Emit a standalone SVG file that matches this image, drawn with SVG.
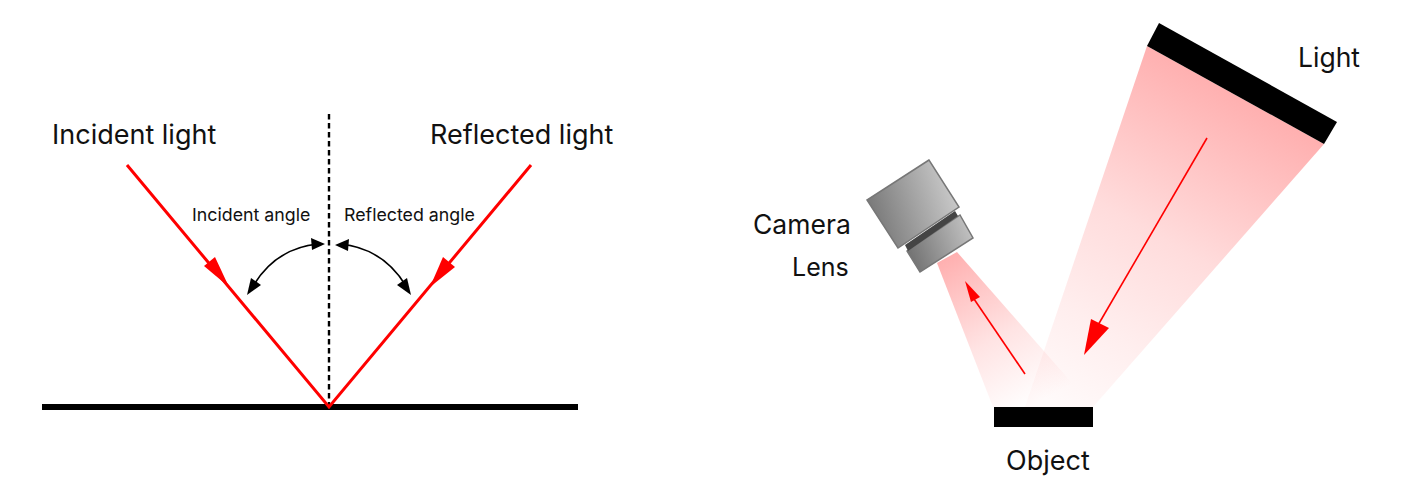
<svg xmlns="http://www.w3.org/2000/svg" width="1402" height="500" viewBox="0 0 1402 500">
<style>
text{font-family:Inter,"Liberation Sans",sans-serif;fill:#111}
.big{font-size:27px}.mid{font-size:26.5px}.sm{font-size:17.8px}
.ray{stroke:#f00;stroke-width:3;fill:none}
.thin{stroke:#f00;stroke-width:1.6;fill:none}
.arc{stroke:#000;stroke-width:1.6;fill:none}
</style>
<defs>
<linearGradient id="lightBeam" gradientUnits="userSpaceOnUse" x1="1236" y1="95" x2="1059" y2="407"><stop offset="0" stop-color="#ffb0b0"/><stop offset=".45" stop-color="#ffdcdc"/><stop offset=".75" stop-color="#ffeeee"/><stop offset="1" stop-color="#fffafa"/></linearGradient>
<linearGradient id="camBeam" gradientUnits="userSpaceOnUse" x1="947" y1="258" x2="1030" y2="407"><stop offset="0" stop-color="#ffb0b0"/><stop offset=".55" stop-color="#ffb0b0" stop-opacity=".35"/><stop offset="1" stop-color="#ffb0b0" stop-opacity="0"/></linearGradient>
<linearGradient id="metal" gradientUnits="userSpaceOnUse" x1="867" y1="215" x2="959" y2="185"><stop offset="0" stop-color="#757575"/><stop offset="1" stop-color="#cfcfcf"/></linearGradient>
<linearGradient id="metal2" gradientUnits="userSpaceOnUse" x1="907" y1="255" x2="973" y2="230"><stop offset="0" stop-color="#707070"/><stop offset="1" stop-color="#c4c4c4"/></linearGradient>
</defs>
<g id="left-surface"><rect x="42" y="404" width="536" height="6" fill="#000"/></g>
<g id="connectors">
<path d="M329 114V406" stroke="#000" stroke-width="2.4" stroke-dasharray="5.5 3.5" fill="none"/>
<path class="ray" d="M127 165L329 407L531 165"/>
<polygon points="204,266 215,257 229,287" fill="#f00"/>
<polygon points="455,267 443,257 430,287" fill="#f00"/>
<path class="arc" d="M253 286Q276 248 318 244"/>
<path class="arc" d="M340 244Q383 248 406 286"/>
<polygon points="247,295 251,278 261,285"/>
<polygon points="325,244 311,238 312,250"/>
<polygon points="335,245 349,239 348,251"/>
<polygon points="411,295 397,285 407,278"/>
</g>
<g id="light-beam"><polygon points="1147,46 1324,144 1093,407 1025,407" fill="url(#lightBeam)"/></g>
<g id="camera-beam"><polygon points="937,263 957,252 1093,407 993,407" fill="url(#camBeam)"/></g>
<g id="beam-arrows">
<path class="thin" d="M1207 138L1094 332"/>
<polygon points="1084,355 1091,319 1109,328" fill="#f00"/>
<path class="thin" d="M1025 374L974 299"/>
<polygon points="965,281 980,297 971,302" fill="#f00"/>
</g>
<g id="light"><polygon points="1159,23 1337,122 1324,144 1147,46" fill="#000"/><text class="mid" x="1298" y="67">Light</text></g>
<g id="object"><rect x="994" y="407" width="99" height="20" fill="#000"/><text class="big" x="1006" y="470">Object</text></g>
<g id="camera">
<polygon points="929,160 867,200 898,248 959,207" fill="url(#metal)" stroke="#777" stroke-width="1.5"/>
<polygon points="907,251 960,215 973,238 920,272" fill="url(#metal2)" stroke="#777" stroke-width="1.5"/>
<polygon points="905,245 955,211 958,216 908,251" fill="#444"/>
<text class="mid" x="753" y="234">Camera</text><text class="mid" font-size="25" style="font-size:25px" x="792" y="276">Lens</text>
</g>
<g id="labels">
<text class="big" x="52" y="144">Incident light</text>
<text class="big" x="430" y="144">Reflected light</text>
<text class="sm" x="192" y="221">Incident angle</text>
<text class="sm" x="344" y="221">Reflected angle</text>
</g>
</svg>
